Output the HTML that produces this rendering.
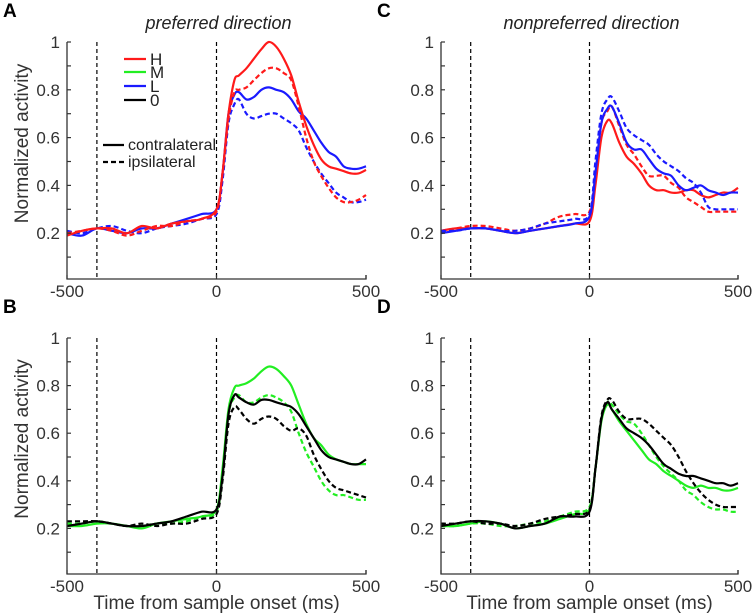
<!DOCTYPE html>
<html><head><meta charset="utf-8"><style>
html,body{margin:0;padding:0;background:#fff;}
svg{display:block;font-family:"Liberation Sans",Arial,sans-serif;}
</style></head><body>
<svg id="fig" width="753" height="614" viewBox="0 0 753 614"></svg>
<script>
const times=[-500,-450,-400,-350,-300,-250,-200,-150,-100,-50,0,20,40,60,75,100,125,150,175,200,225,250,275,300,325,350,375,400,425,450,475,500];
const xTicks=[-500,0,500];
const yTickLabels=["0.2","0.4","0.6","0.8","1"];
const yMajor=[0.2,0.4,0.6,0.8,1];
const yMinor=[0.1,0.3,0.5,0.7,0.9];
const cueLines=[-400,0];
const aHsolid=[.19,.21,.22,.22,.20,.23,.22,.24,.25,.26,.30,.45,.70,.84,.86,.89,.93,.97,1.0,.98,.93,.86,.75,.65,.57,.51,.48,.47,.46,.45,.45,.465];
const aHdash=[.20,.21,.22,.21,.19,.21,.23,.23,.25,.26,.29,.45,.68,.79,.80,.81,.84,.87,.89,.89,.87,.84,.73,.60,.50,.44,.39,.35,.33,.33,.34,.36];
const aLsolid=[.20,.19,.22,.21,.20,.22,.22,.24,.26,.28,.30,.45,.70,.78,.79,.76,.77,.80,.81,.80,.79,.76,.71,.68,.63,.58,.54,.52,.48,.47,.47,.48];
const aLdash=[.21,.20,.22,.23,.21,.20,.22,.23,.24,.26,.28,.42,.66,.74,.76,.70,.68,.69,.70,.70,.68,.66,.63,.56,.50,.45,.41,.37,.35,.33,.33,.34];
const bMsolid=[.21,.21,.22,.22,.21,.20,.22,.23,.24,.25,.28,.45,.70,.79,.80,.81,.83,.86,.88,.87,.84,.80,.72,.64,.58,.55,.51,.49,.48,.47,.47,.47];
const bMdash=[.22,.22,.23,.22,.21,.21,.22,.22,.23,.25,.27,.42,.68,.75,.76,.73,.73,.75,.76,.75,.73,.69,.60,.52,.46,.40,.36,.34,.34,.33,.32,.32];
const b0solid=[.21,.22,.23,.22,.21,.21,.22,.23,.25,.27,.28,.42,.68,.76,.75,.73,.72,.74,.74,.73,.72,.71,.68,.63,.58,.53,.50,.49,.48,.47,.47,.49];
const b0dash=[.23,.23,.23,.22,.21,.22,.21,.22,.22,.24,.26,.40,.64,.71,.70,.66,.64,.66,.67,.66,.63,.61,.62,.59,.51,.45,.40,.37,.36,.35,.34,.33];
const cHsolid=[.21,.22,.22,.22,.21,.20,.21,.22,.23,.24,.25,.40,.60,.67,.66,.58,.52,.49,.45,.40,.38,.38,.37,.37,.38,.38,.36,.35,.36,.37,.37,.39];
const cHdash=[.21,.22,.23,.23,.22,.21,.22,.24,.27,.28,.29,.45,.66,.71,.73,.65,.57,.53,.48,.44,.44,.44,.41,.39,.35,.33,.31,.29,.29,.29,.29,.29];
const cLsolid=[.20,.21,.22,.22,.21,.20,.21,.22,.23,.24,.27,.45,.66,.72,.73,.66,.58,.55,.55,.51,.47,.45,.44,.40,.38,.39,.40,.38,.37,.36,.37,.37];
const cLdash=[.21,.21,.22,.22,.21,.21,.22,.24,.25,.26,.28,.50,.70,.76,.77,.71,.64,.61,.59,.57,.53,.50,.48,.46,.43,.41,.37,.31,.30,.30,.30,.30];
const dMsolid=[.21,.21,.22,.23,.22,.20,.21,.22,.24,.26,.28,.45,.65,.72,.70,.65,.61,.57,.53,.49,.47,.44,.42,.40,.38,.37,.38,.37,.37,.36,.36,.37];
const dMdash=[.21,.21,.22,.22,.21,.21,.22,.23,.25,.27,.29,.45,.66,.73,.72,.68,.65,.64,.60,.55,.50,.46,.43,.40,.36,.34,.31,.29,.28,.28,.27,.27];
const d0solid=[.21,.22,.23,.23,.22,.20,.21,.22,.25,.25,.27,.45,.66,.73,.70,.66,.62,.60,.58,.55,.51,.47,.45,.43,.42,.42,.41,.40,.39,.39,.38,.39];
const d0dash=[.22,.22,.23,.22,.22,.21,.22,.24,.25,.26,.28,.45,.67,.74,.74,.69,.66,.66,.66,.64,.61,.58,.55,.50,.44,.39,.35,.32,.30,.29,.29,.29];

const NS="http://www.w3.org/2000/svg";
const svg=document.getElementById('fig');
function mk(tag,attrs,parent){const e=document.createElementNS(NS,tag);for(const k in attrs)e.setAttribute(k,attrs[k]);(parent||svg).appendChild(e);return e;}
function txt(s,attrs,parent){const e=mk('text',attrs,parent);e.textContent=s;return e;}
const RED="#ff1a1a",GRN="#22ee22",BLU="#1a1aff",BLK="#000";
const panels=[
 {id:'a',letter:'A',x0:67,x1:366,yZero:281,yOne:42,title:'preferred direction',ylabel:true,xlabel:false,
  series:[[aLdash,BLU,true,'l-ipsi'],[aLsolid,BLU,false,'l-contra'],[aHdash,RED,true,'h-ipsi'],[aHsolid,RED,false,'h-contra']]},
 {id:'c',letter:'C',x0:441,x1:738,yZero:281,yOne:42,title:'nonpreferred direction',ylabel:false,xlabel:false,
  series:[[cHdash,RED,true,'h-ipsi'],[cHsolid,RED,false,'h-contra'],[cLdash,BLU,true,'l-ipsi'],[cLsolid,BLU,false,'l-contra']]},
 {id:'b',letter:'B',x0:67,x1:366,yZero:576,yOne:338,title:null,ylabel:true,xlabel:true,
  series:[[bMdash,GRN,true,'m-ipsi'],[bMsolid,GRN,false,'m-contra'],[b0dash,BLK,true,'zero-ipsi'],[b0solid,BLK,false,'zero-contra']]},
 {id:'d',letter:'D',x0:441,x1:738,yZero:576,yOne:338,title:null,ylabel:false,xlabel:true,
  series:[[dMdash,GRN,true,'m-ipsi'],[dMsolid,GRN,false,'m-contra'],[d0dash,BLK,true,'zero-ipsi'],[d0solid,BLK,false,'zero-contra']]}
];
function smoothPath(pts){
 let d='M'+pts[0][0].toFixed(1)+','+pts[0][1].toFixed(1);
 for(let i=0;i<pts.length-1;i++){
  const p0=pts[Math.max(0,i-1)],p1=pts[i],p2=pts[i+1],p3=pts[Math.min(pts.length-1,i+2)];
  const c1=[p1[0]+(p2[0]-p0[0])/6,p1[1]+(p2[1]-p0[1])/6];
  const c2=[p2[0]-(p3[0]-p1[0])/6,p2[1]-(p3[1]-p1[1])/6];
  d+=' C'+c1[0].toFixed(1)+','+c1[1].toFixed(1)+' '+c2[0].toFixed(1)+','+c2[1].toFixed(1)+' '+p2[0].toFixed(1)+','+p2[1].toFixed(1);
 }
 return d;
}
panels.forEach(p=>{
 const xs=t=>p.x0+(t+500)/1000*(p.x1-p.x0);
 const ys=v=>p.yZero-v*(p.yZero-p.yOne);
 const g=mk('g',{});
 
 
 const L=txt(p.letter,{x:p.x0-64,y:p.yOne-25,'font-size':19,'font-weight':'bold',fill:'#000'},g);
 
 
 if(p.title){const T=txt(p.title,{x:(p.x0+p.x1)/2+2,y:p.yOne-13,'font-size':18,'font-style':'italic','text-anchor':'middle',fill:'#222'},g);
  
  }
 cueLines.forEach(c=>{const l=mk('line',{x1:xs(c),x2:xs(c),y1:p.yOne,y2:p.yZero-2,stroke:'#000','stroke-width':1.2,'stroke-dasharray':'4,3'},g);
  
  });
 p.series.forEach(s=>{
  const pts=times.map((t,i)=>[xs(t),ys(s[0][i])]);
  const path=mk('path',{d:smoothPath(pts),fill:'none',stroke:s[1],'stroke-width':2.2,'stroke-dasharray':s[2]?'5,3':'none'},g);
  
  
 });
 const ax=mk('path',{d:`M${p.x0},${p.yOne} V${p.yZero-2} H${p.x1} V${p.yZero-6}`,fill:'none',stroke:'#333','stroke-width':1.3},g);
 
 
 yMajor.forEach((v,i)=>{
  mk('line',{x1:p.x0,x2:p.x0+4,y1:ys(v),y2:ys(v),stroke:'#333','stroke-width':1.2},g);
  const t=txt(yTickLabels[i],{x:p.x0-7,y:ys(v)+6,'font-size':17,'text-anchor':'end',fill:'#333'},g);
  
  
 });
 yMinor.forEach(v=>mk('line',{x1:p.x0,x2:p.x0+4,y1:ys(v),y2:ys(v),stroke:'#333','stroke-width':1.2},g));
 xTicks.forEach(v=>{
  mk('line',{x1:xs(v),x2:xs(v),y1:p.yZero-2,y2:p.yZero-6,stroke:'#333','stroke-width':1.2},g);
  const t=txt(String(v),{x:xs(v),y:p.yZero+16,'font-size':17,'text-anchor':'middle',fill:'#333'},g);
  
  
 });
 if(p.ylabel){const cy=(p.yOne+p.yZero)/2-18;
  const t=txt('Normalized activity',{x:0,y:0,'font-size':19,'text-anchor':'middle',fill:'#333',transform:`translate(28,${cy}) rotate(-90)`},g);
  
  }
 if(p.xlabel){const t=txt('Time from sample onset (ms)',{x:(p.x0+p.x1)/2,y:p.yZero+33,'font-size':19,'text-anchor':'middle',fill:'#333'},g);
  
  }
});
const leg=mk('g',{});


[['H',RED,59],['M',GRN,72],['L',BLU,86],['0',BLK,100]].forEach(e=>{
 mk('line',{x1:124,x2:146,y1:e[2],y2:e[2],stroke:e[1],'stroke-width':2.2},leg);
 const t=txt(e[0],{x:150,y:e[2]+6,'font-size':17,fill:'#222'},leg);
 
 
});
[['contralateral','none',145],['ipsilateral','5,3',162]].forEach(e=>{
 mk('line',{x1:103,x2:124,y1:e[2],y2:e[2],stroke:'#000','stroke-width':2.2,'stroke-dasharray':e[1]},leg);
 const t=txt(e[0],{x:128,y:e[2]+5,'font-size':16,fill:'#222'},leg);
 
 
});
</script>
</body></html>
